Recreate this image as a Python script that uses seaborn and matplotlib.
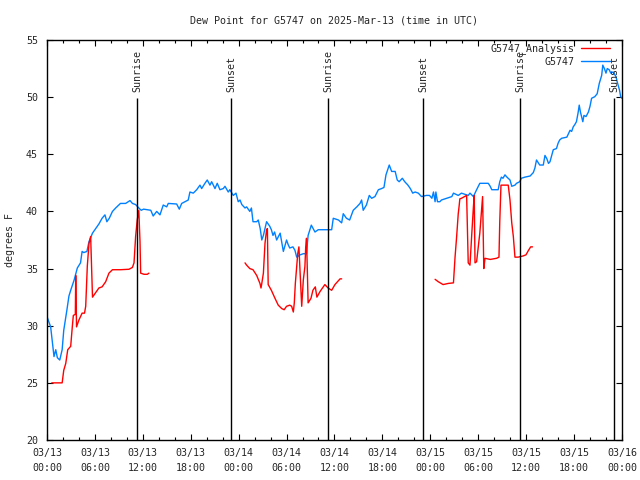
import numpy as np
import pandas as pd
import matplotlib
matplotlib.use("Agg")
import matplotlib.pyplot as plt
from matplotlib.ticker import MultipleLocator
import seaborn as sns

# hours since 2025-03-13 00:00 UTC
obs_hours = [0.0, 0.46, 0.88, 1.1, 1.3, 1.6, 1.9, 2.1, 2.5, 2.75, 2.97, 3.4, 3.8, 4.2, 4.4, 4.6,
             5.0, 5.26, 5.7, 6.1, 6.5, 6.9, 7.26, 7.5, 7.8, 8.2, 8.6, 9.2, 9.85, 10.4, 10.7, 11.1,
             11.5, 11.8, 12.1, 13.0, 13.3, 13.74, 14.15, 14.56, 14.99, 15.19, 16.24, 16.57, 16.87,
             17.28, 17.69, 17.9, 18.32, 18.75, 19.16, 19.37, 19.78, 20.07, 20.41, 20.62, 21.04,
             21.32, 21.66, 22.08, 22.29, 22.7, 22.9, 23.33, 23.67, 23.95, 24.17, 24.4, 24.8, 25.0,
             25.4, 25.6, 25.8, 26.26, 26.46, 26.7, 26.9, 27.1, 27.5, 27.9, 28.1, 28.3, 28.5, 28.76,
             29.2, 29.6, 30.0, 30.2, 30.4, 30.8, 31.05, 31.27, 31.7, 32.1, 32.5, 32.7, 33.1, 33.56,
             33.97, 34.8, 35.65, 35.85, 36.5, 36.9, 37.1, 37.5, 37.9, 38.35, 38.8, 39.2, 39.4, 39.6,
             40.0, 40.36, 40.66, 41.07, 41.5, 41.9, 42.2, 42.45, 42.86, 43.16, 43.6, 43.86, 44.1,
             44.5, 44.8, 45.2, 45.5, 45.8, 46.1, 46.5, 46.9, 47.5, 47.9, 48.2, 48.4, 48.6, 48.7,
             48.9, 49.2, 49.4, 50.05, 50.7, 50.9, 51.5, 51.9, 52.75, 52.97, 53.4, 53.8, 54.2, 55.26,
             55.5, 55.7, 56.5, 56.7, 56.9, 57.1, 57.35, 57.6, 57.98, 58.2, 58.6, 58.8, 59.2, 59.4,
             59.85, 60.5, 60.9, 61.1, 61.3, 61.7, 62.15, 62.36, 62.6, 62.8, 62.99, 63.2, 63.4, 63.8,
             64.0, 64.2, 64.45, 65.1, 65.3, 65.5, 65.7, 65.9, 66.1, 66.3, 66.5, 66.65, 66.8, 67.1,
             67.24, 67.5, 67.8, 68.0, 68.2, 68.6, 68.9, 69.16, 69.46, 69.6, 69.8, 70.0, 70.16, 70.4,
             70.6, 70.9, 71.25, 71.4, 71.7, 71.84, 72.0]
obs_dewpt = [30.8, 29.9, 27.3, 27.9, 27.2, 27.0, 27.9, 29.6, 31.4, 32.6, 33.1, 34.0, 35.05, 35.5,
             36.5, 36.4, 36.5, 37.35, 38.1, 38.5, 38.9, 39.4, 39.7, 39.1, 39.4, 40.0, 40.3, 40.7,
             40.7, 40.95, 40.7, 40.6, 40.3, 40.1, 40.2, 40.1, 39.6, 40.0, 39.7, 40.56, 40.4, 40.7,
             40.65, 40.2, 40.7, 40.85, 41.0, 41.7, 41.6, 41.9, 42.3, 42.0, 42.46, 42.75, 42.3, 42.6,
             42.0, 42.46, 41.9, 42.0, 42.2, 41.7, 41.9, 41.4, 41.6, 40.85, 41.0, 40.6, 40.3, 40.4,
             40.0, 40.3, 39.1, 39.1, 39.25, 38.5, 37.5, 37.9, 39.1, 38.7, 38.4, 37.9, 38.2, 37.5,
             38.1, 36.5, 37.5, 37.1, 36.8, 36.9, 36.6, 36.0, 36.2, 36.3, 36.3, 37.9, 38.8, 38.2,
             38.4, 38.4, 38.4, 39.4, 39.25, 39.0, 39.8, 39.4, 39.25, 40.1, 40.4, 40.7, 41.0, 40.1,
             40.56, 41.4, 41.15, 41.3, 41.9, 42.0, 42.1, 43.2, 44.06, 43.5, 43.5, 42.75, 42.6, 42.9,
             42.6, 42.3, 42.0, 41.6, 41.7, 41.6, 41.3, 41.4, 41.4, 41.15, 41.7, 40.85, 41.7, 40.85,
             40.85, 41.0, 41.15, 41.3, 41.6, 41.4, 41.6, 41.4, 41.6, 41.3, 41.9, 42.46, 42.46, 42.2,
             41.9, 41.9, 42.6, 43.0, 42.9, 43.2, 43.0, 42.75, 42.2, 42.3, 42.46, 42.6, 42.9, 43.0,
             43.1, 43.4, 43.8, 44.5, 44.06, 44.06, 44.9, 44.6, 44.2, 44.35, 44.9, 45.4, 45.5, 45.96,
             46.25, 46.4, 46.5, 46.8, 47.1, 47.0, 47.4, 47.6, 47.85, 48.6, 49.3, 48.7, 47.85, 48.4,
             48.3, 48.7, 49.2, 49.9, 50.04, 50.3, 51.2, 51.9, 52.8, 52.5, 52.1, 52.5, 52.4, 52.1,
             52.2, 51.8, 51.35, 50.6, 50.04, 49.9]

# analysis series, three separate stretches
ana1_hours = [0.6, 1.9, 2.1, 2.35, 2.6, 2.97, 3.17, 3.3, 3.55, 3.6, 3.7, 4.0, 4.4, 4.7, 4.85, 5.05,
              5.26, 5.47, 5.7, 5.9, 6.5, 6.9, 7.35, 7.76, 8.2, 9.2, 10.27, 10.7, 10.9, 11.1, 11.3,
              11.5, 11.65, 11.73, 12.15, 12.56, 12.77]
ana1_dewpt = [25.0, 25.0, 26.1, 26.7, 27.9, 28.2, 29.9, 30.9, 31.0, 34.4, 29.9, 30.5, 31.1, 31.1,
              31.7, 35.2, 37.2, 37.8, 32.5, 32.7, 33.3, 33.4, 33.85, 34.6, 34.9, 34.9, 34.94, 35.1,
              35.5, 37.8, 39.25, 40.1, 37.35, 34.6, 34.5, 34.5, 34.6]
ana2_hours = [24.8, 25.0, 25.4, 25.8, 26.26, 26.67, 26.8, 26.9, 27.1, 27.3, 27.5, 27.6, 27.7, 28.1,
              28.55, 28.96, 29.4, 29.7, 30.0, 30.4, 30.64, 30.85, 30.97, 31.1, 31.4, 31.55, 31.7,
              31.9, 32.1, 32.3, 32.4, 32.5, 32.6, 32.7, 33.06, 33.3, 33.6, 33.8, 34.2, 34.8, 35.2,
              35.65, 36.06, 36.7, 36.9]
ana2_dewpt = [35.5, 35.3, 35.0, 34.9, 34.4, 33.7, 33.3, 33.7, 34.6, 37.2, 38.4, 38.5, 33.6, 33.1,
              32.4, 31.8, 31.5, 31.4, 31.7, 31.8, 31.7, 31.2, 32.0, 33.7, 36.3, 36.9, 34.6, 31.7,
              34.0, 35.2, 36.9, 37.65, 34.9, 32.0, 32.4, 33.1, 33.4, 32.5, 33.0, 33.6, 33.3, 33.1,
              33.6, 34.1, 34.1]
ana3_hours = [48.6, 49.0, 49.6, 50.25, 50.9, 51.1, 51.3, 51.5, 51.6, 51.7, 51.9, 52.55, 52.75, 52.97,
              53.2, 53.4, 53.5, 53.6, 53.8, 54.2, 54.55, 54.7, 54.85, 55.5, 56.3, 56.6, 56.7, 56.85,
              57.76, 57.98, 58.2, 58.4, 58.6, 59.0, 59.6, 59.98, 60.3, 60.57, 60.8]
ana3_dewpt = [34.06, 33.85, 33.6, 33.7, 33.75, 36.0, 37.8, 39.8, 40.4, 41.1, 41.15, 41.4, 35.5, 35.3,
              38.1, 40.4, 41.4, 35.5, 35.6, 38.1, 41.3, 35.0, 35.9, 35.8, 35.9, 36.0, 39.1, 42.3,
              42.3, 41.0, 39.0, 37.8, 36.0, 36.0, 36.1, 36.2, 36.6, 36.9, 36.9]

sun_hours = [11.27, 23.05, 35.25, 47.08, 59.23, 71.0]
sun_labels = ["Sunrise", "Sunset", "Sunrise", "Sunset", "Sunrise", "Sunset"]

tick_hours = list(range(0, 73, 6))
tick_labels = ["03/13\n00:00", "03/13\n06:00", "03/13\n12:00", "03/13\n18:00",
               "03/14\n00:00", "03/14\n06:00", "03/14\n12:00", "03/14\n18:00",
               "03/15\n00:00", "03/15\n06:00", "03/15\n12:00", "03/15\n18:00",
               "03/16\n00:00"]

sns.set_style("ticks", {"xtick.direction": "in", "ytick.direction": "in"})
plt.rcParams["font.family"] = ["DejaVu Sans Mono"]
FS = 7.2

fig = plt.figure(figsize=(6.4, 4.8), dpi=100)
ax = fig.add_axes([0.0734, 0.0833, 0.8984, 0.8334])

obs = pd.DataFrame({"hours": obs_hours, "dewpt": obs_dewpt})
sns.lineplot(data=obs, x="hours", y="dewpt", ax=ax, color="#0080ff", lw=1,
             estimator=None, sort=False, label="G5747")
for i, (h, v) in enumerate([(ana1_hours, ana1_dewpt), (ana2_hours, ana2_dewpt),
                            (ana3_hours, ana3_dewpt)]):
    sns.lineplot(x=h, y=v, ax=ax, color="red", lw=1, estimator=None, sort=False,
                 label="G5747_Analysis" if i == 0 else None)

ax.vlines(sun_hours, 20, 49.9, color="black", lw=1, zorder=3)
for h, lab in zip(sun_hours, sun_labels):
    ax.text(h, 50.45, lab, rotation=90, ha="center", va="bottom", fontsize=FS)

ax.set_xlim(0, 72)
ax.set_ylim(20, 55)
ax.set_xticks(tick_hours)
ax.set_xticklabels(tick_labels, fontsize=FS, linespacing=1.6)
ax.xaxis.set_minor_locator(MultipleLocator(2))
ax.set_yticks(range(20, 56, 5))
ax.tick_params(axis="y", labelsize=FS, pad=6.5)
ax.tick_params(axis="x", pad=6)
ax.tick_params(which="major", length=4.5, width=0.8, top=True, right=True, color="black")
ax.tick_params(which="minor", length=2.5, width=0.8, top=True, bottom=True, color="black")
for s in ax.spines.values():
    s.set_visible(True)
    s.set_color("black")
    s.set_linewidth(1)

ax.set_xlabel("")
ax.set_ylabel("degrees F", fontsize=FS)
ax.yaxis.set_label_coords(-0.056, 0.5)
ax.set_title("Dew Point for G5747 on 2025-Mar-13 (time in UTC)", fontsize=FS, pad=12)

handles, labels = ax.get_legend_handles_labels()
order = [labels.index("G5747_Analysis"), labels.index("G5747")]
ax.legend([handles[i] for i in order], [labels[i] for i in order], loc="upper right",
          bbox_to_anchor=(0.979, 0.992), frameon=False, markerfirst=False, fontsize=FS,
          borderpad=0, borderaxespad=0, handlelength=2.9, handletextpad=0.6,
          labelspacing=0.25)

fig.savefig("out.png", dpi=100)
